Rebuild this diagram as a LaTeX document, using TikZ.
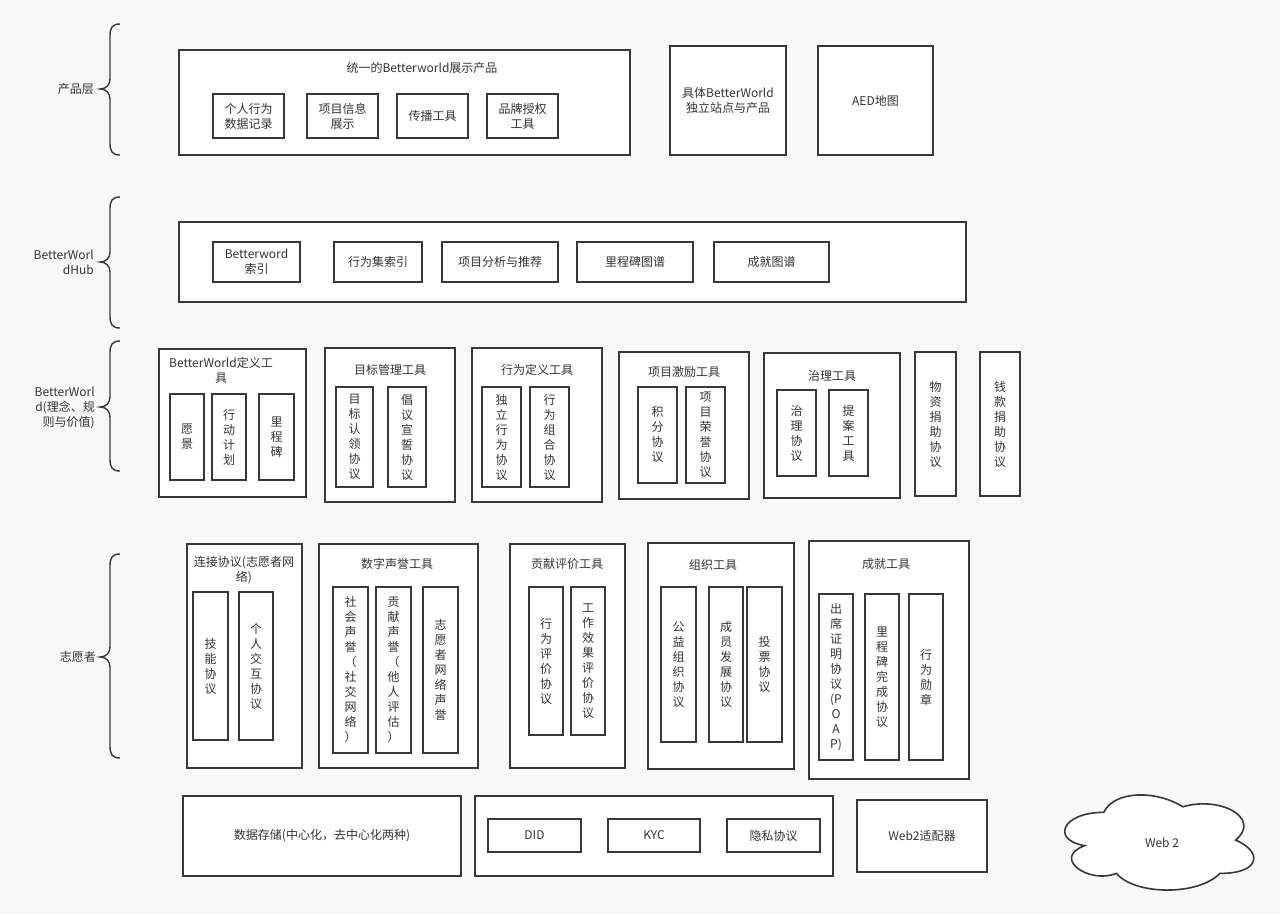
\documentclass[tikz,border=0pt]{standalone}
\usepackage{fontspec}
\setmainfont{Noto Sans CJK SC}
\definecolor{bgc}{HTML}{F8F8F8}
\definecolor{lnc}{HTML}{383838}
\definecolor{txc}{HTML}{333333}
\tikzset{
  box/.style={draw=lnc, line width=1.6pt, fill=white, inner sep=0pt, align=center, text=txc, font=\fontsize{12}{15}\selectfont},
  lbl/.style={inner sep=0pt, align=center, text=txc, font=\fontsize{12}{15}\selectfont},
  brc/.style={draw=lnc, line width=1.4pt},
  cloudline/.style={draw=lnc, line width=1.6pt, fill=white},
}
\newcommand\bx[6]{%
  \pgfmathsetmacro\bw{#4-#2}\pgfmathsetmacro\bh{#5-#3}%
  \node[box, minimum width=\bw pt, minimum height=\bh pt] (#1) at ({(#2+#4)/2},{(#3+#5)/2}) {#6};}
\newcommand\laybrace[3]{% top, tip, bottom
  \draw[brc] (120,#1) .. controls (112,#1) and (110,#1+4) .. (110,#1+12) -- (110,#2-10)
    .. controls (110,#2-4) and (106,#2) .. (100,#2)
    .. controls (106,#2) and (110,#2+4) .. (110,#2+10) -- (110,#3-12)
    .. controls (110,#3-4) and (112,#3) .. (120,#3);}
\begin{document}
\begin{tikzpicture}[x=1pt,y=-1pt]
\useasboundingbox[fill=bgc] (0,0) rectangle (1280,914);

% layer braces and labels
\laybrace{24}{89}{155}
\laybrace{197}{262}{328}
\laybrace{341}{407}{471}
\laybrace{554}{657}{758}
\node[lbl, anchor=east] (L1) at (94,89) {产品层};
\node[lbl, anchor=east, align=right] (L2) at (94,262) {BetterWorl\\dHub};
\node[lbl, anchor=east, align=right] (L3) at (95,408) {BetterWorl\\d(理念、规\\则与价值)};
\node[lbl, anchor=east] (L4) at (96,657) {志愿者};

% ---------- row 1 ----------
\bx{P}{179}{50}{630}{155}{}
\node[lbl] (Pt) at (422,68) {统一的Betterworld展示产品};
\bx{P1}{213}{94}{284}{138}{个人行为\\数据记录}
\bx{P2}{307}{94}{378}{138}{项目信息\\展示}
\bx{P3}{397}{94}{468}{138}{传播工具}
\bx{P4}{487}{94}{558}{138}{品牌授权\\工具}
\bx{S}{670}{46}{786}{155}{具体BetterWorld\\独立站点与产品}
\bx{A}{818}{46}{933}{155}{AED地图}

% ---------- row 2 ----------
\bx{H}{179}{222}{966}{302}{}
\bx{H1}{213}{242}{300}{282}{Betterword\\索引}
\bx{H2}{334}{242}{422}{282}{行为集索引}
\bx{H3}{442}{242}{558}{282}{项目分析与推荐}
\bx{H4}{577}{242}{693}{282}{里程碑图谱}
\bx{H5}{714}{242}{829}{282}{成就图谱}

% ---------- row 3 ----------
\bx{D}{159}{349}{306}{497}{}
\node[lbl] (Dt) at (221,370) {BetterWorld定义工\\具};
\bx{D1}{170}{394}{204}{480}{愿\\景}
\bx{D2}{212}{394}{246}{480}{行\\动\\计\\划}
\bx{D3}{259}{394}{294}{480}{里\\程\\碑}
\bx{G}{325}{348}{455}{502}{}
\node[lbl] (Gt) at (390,370) {目标管理工具};
\bx{G1}{336}{387}{373}{487}{目\\标\\认\\领\\协\\议}
\bx{G2}{388}{387}{426}{487}{倡\\议\\宣\\誓\\协\\议}
\bx{B}{472}{348}{602}{502}{}
\node[lbl] (Bt) at (537,370) {行为定义工具};
\bx{B1}{482}{387}{521}{487}{独\\立\\行\\为\\协\\议}
\bx{B2}{530}{387}{569}{487}{行\\为\\组\\合\\协\\议}
\bx{I}{619}{352}{749}{499}{}
\node[lbl] (It) at (684,372) {项目激励工具};
\bx{I1}{638}{387}{677}{483}{积\\分\\协\\议}
\bx{I2}{686}{387}{725}{483}{项\\目\\荣\\誉\\协\\议}
\bx{Z}{764}{353}{900}{498}{}
\node[lbl] (Zt) at (832,376) {治理工具};
\bx{Z1}{777}{390}{816}{476}{治\\理\\协\\议}
\bx{Z2}{829}{390}{868}{476}{提\\案\\工\\具}
\bx{W}{915}{352}{956}{496}{物\\资\\捐\\助\\协\\议}
\bx{M}{980}{352}{1020}{496}{钱\\款\\捐\\助\\协\\议}

% ---------- row 4 ----------
\bx{C}{187}{544}{302}{768}{}
\node[lbl] (Ct) at (244,570) {连接协议(志愿者网\\络)};
\bx{C1}{193}{592}{228}{740}{技\\能\\协\\议}
\bx{C2}{239}{592}{273}{740}{个\\人\\交\\互\\协\\议}
\bx{R}{319}{544}{478}{768}{}
\node[lbl] (Rt) at (397,564) {数字声誉工具};
\bx{R1}{333}{587}{368}{753}{社\\会\\声\\誉\\（\\社\\交\\网\\络\\）}
\bx{R2}{376}{587}{411}{753}{贡\\献\\声\\誉\\（\\他\\人\\评\\估\\）}
\bx{R3}{423}{587}{458}{753}{志\\愿\\者\\网\\络\\声\\誉}
\bx{E}{510}{544}{625}{768}{}
\node[lbl] (Et) at (567,564) {贡献评价工具};
\bx{E1}{529}{587}{563}{735}{行\\为\\评\\价\\协\\议}
\bx{E2}{571}{587}{605}{735}{工\\作\\效\\果\\评\\价\\协\\议}
\bx{O}{648}{543}{794}{769}{}
\node[lbl] (Ot) at (713,565) {组织工具};
\bx{O1}{661}{587}{696}{742}{公\\益\\组\\织\\协\\议}
\bx{O2}{709}{587}{743}{742}{成\\员\\发\\展\\协\\议}
\bx{O3}{747}{587}{782}{742}{投\\票\\协\\议}
\bx{K}{809}{541}{969}{779}{}
\node[lbl] (Kt) at (886,564) {成就工具};
\bx{K1}{819}{594}{853}{760}{出\\席\\证\\明\\协\\议\\(P\\O\\A\\P)}
\bx{K2}{865}{594}{899}{760}{里\\程\\碑\\完\\成\\协\\议}
\bx{K3}{909}{594}{943}{760}{行\\为\\勋\\章}

% ---------- row 5 ----------
\bx{T}{183}{796}{461}{876}{数据存储(中心化，去中心化两种)}
\bx{X}{475}{796}{833}{876}{}
\bx{X1}{488}{819}{581}{852}{DID}
\bx{X2}{608}{819}{700}{852}{KYC}
\bx{X3}{727}{819}{820}{852}{隐私协议}
\bx{Y}{857}{800}{987}{872}{Web2适配器}

% cloud (draw.io cloud outline)
\begin{scope}[shift={(1051,784.6)}, x=211pt, y=-111pt]
  \draw[cloudline] (0.25,0.25)
    .. controls (0.05,0.25) and (0,0.5) .. (0.16,0.55)
    .. controls (0,0.66) and (0.18,0.9) .. (0.31,0.8)
    .. controls (0.4,1) and (0.7,1) .. (0.8,0.8)
    .. controls (1,0.8) and (1,0.6) .. (0.875,0.5)
    .. controls (1,0.3) and (0.8,0.1) .. (0.625,0.2)
    .. controls (0.5,0.05) and (0.3,0.05) .. (0.25,0.25) -- cycle;
\end{scope}
\node[lbl] (Cl) at (1162,843) {Web 2};
\end{tikzpicture}
\end{document}
